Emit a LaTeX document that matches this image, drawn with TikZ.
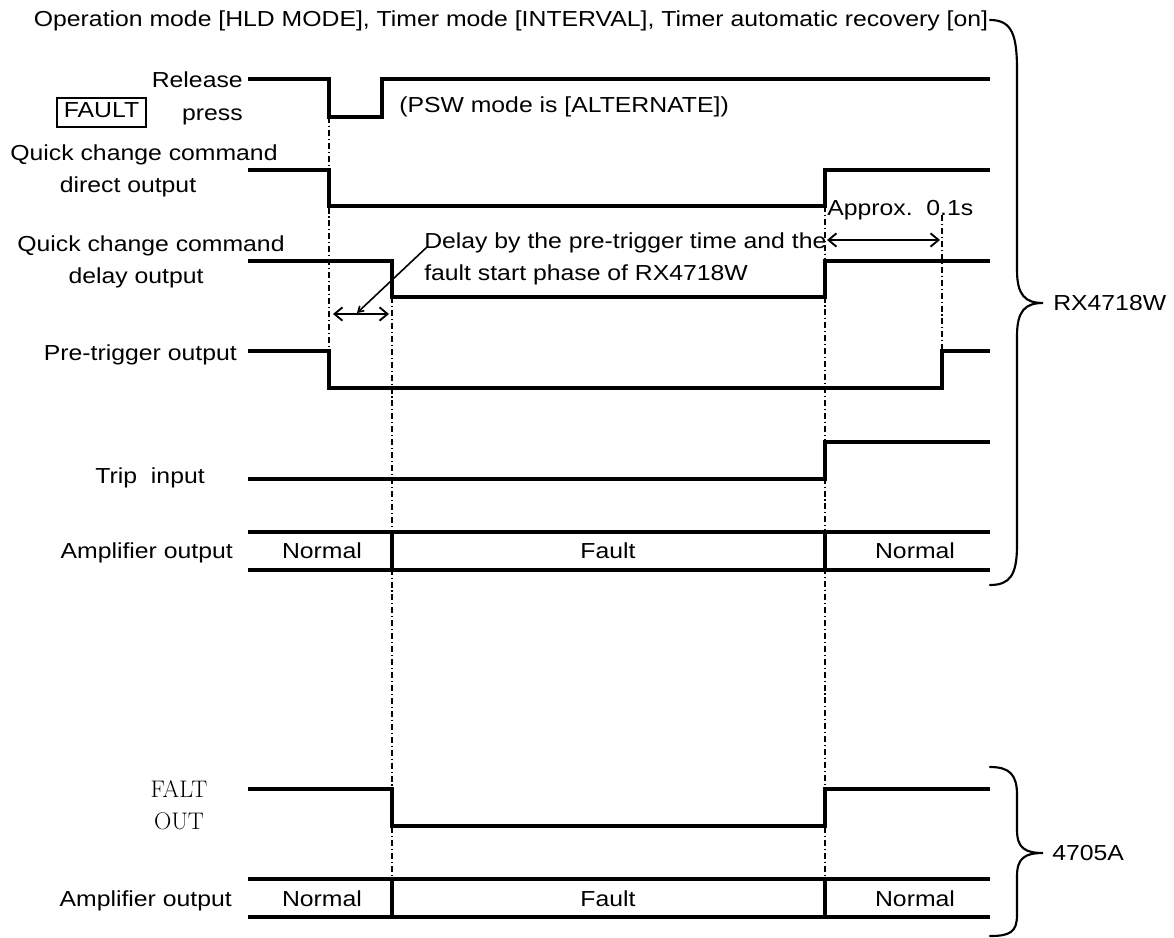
\documentclass[tikz,border=0pt]{standalone}
\usepackage{fontspec}
\setsansfont[FakeStretch=1.14]{Liberation Sans}
\usepackage{tikz}
\usetikzlibrary{arrows.meta}

\begin{document}
\begin{tikzpicture}[x=0.75pt,y=-0.75pt,
  every node/.style={font=\sffamily\fontsize{16.3}{19}\selectfont,inner sep=0pt},
  sig/.style={line width=2.4pt,line join=miter},
  guide/.style={line width=0.8pt,dash pattern=on 4.5pt off 2.2pt on 0.8pt off 2.2pt},
  dimarrow/.style={line width=1.4pt,{Straight Barb[length=6pt,width=10pt]}-{Straight Barb[length=6pt,width=10pt]}},
  bracepath/.style={line width=1.6pt,line cap=round},
  lbl/.style={anchor=base east},
  serif/.style={anchor=base,font=\rmfamily\fontsize{18}{21}\selectfont}]
  \useasboundingbox (0,0) rectangle (1174,938);

  % header
  \node[anchor=base] (head) at (511,27) {Operation mode [HLD MODE], Timer mode [INTERVAL], Timer automatic recovery [on]};

  % signal names
  \node[lbl] (release) at (243,88) {Release};
  \node[lbl] (press) at (243,121) {press};
  \node[draw,line width=1.3pt,minimum width=66.75pt,minimum height=21.75pt,text depth=3pt] (faultkey) at (101.5,112.5) {FAULT};
  \node[anchor=base west] (psw) at (399,113) {(PSW mode is [ALTERNATE])};
  \node[anchor=base] (qcdirA) at (144,161) {Quick change command};
  \node[anchor=base] (qcdirB) at (128,192) {direct output};
  \node[anchor=base] (qcdlyA) at (151,251) {Quick change command};
  \node[anchor=base] (qcdlyB) at (136,283) {delay output};
  \node[lbl] (pretrig) at (237,360) {Pre-trigger output};
  \node[lbl] (trip) at (205,483) {Trip~~input};
  \node[lbl] (ampA) at (233,558) {Amplifier output};
  \node[serif] (faltA) at (179,797) {FALT};
  \node[serif] (faltB) at (179,829) {OUT};
  \node[lbl] (ampB) at (232,906) {Amplifier output};

  % guide lines
  \draw[guide] (329,117) -- (329,388);
  \draw[guide] (392,297) -- (392,917);
  \draw[guide] (825,206) -- (825,917);
  \draw[guide] (942,215) -- (942,351);

  % waveforms
  \draw[sig] (248,79) -- (329,79) -- (329,117) -- (382,117) -- (382,79) -- (990,79);
  \draw[sig] (248,170) -- (329,170) -- (329,206) -- (825,206) -- (825,170) -- (990,170);
  \draw[sig] (248,261) -- (392,261) -- (392,297) -- (825,297) -- (825,261) -- (990,261);
  \draw[sig] (248,351) -- (329,351) -- (329,388) -- (942,388) -- (942,351) -- (990,351);
  \draw[sig] (248,479) -- (825,479) -- (825,442) -- (990,442);
  \draw[sig] (248,789) -- (392,789) -- (392,826) -- (825,826) -- (825,789) -- (990,789);
  \foreach \yt/\yb in {532/570,879/917}{
    \draw[sig] (248,\yt) -- (990,\yt) (248,\yb) -- (990,\yb);
    \draw[sig] (392,\yt) -- (392,\yb) (825,\yt) -- (825,\yb);
  }
  \node[anchor=base] (normA) at (322,558) {Normal};
  \node[anchor=base] (faultA) at (608,558) {Fault};
  \node[anchor=base] (normB) at (915,558) {Normal};
  \node[anchor=base] (normC) at (322,906) {Normal};
  \node[anchor=base] (faultB) at (608,906) {Fault};
  \node[anchor=base] (normD) at (915,906) {Normal};

  % delays
  \coordinate (dlyL) at (333,314);
  \coordinate (dlyR) at (389,314);
  \draw[dimarrow] (dlyL) -- (dlyR);
  \node[anchor=base west] (delayA) at (424,248) {Delay by the pre-trigger time and the};
  \node[anchor=base west] (delayB) at (424,280) {fault start phase of RX4718W};
  \coordinate (ptail) at (427,247);
  \coordinate (phead) at (357,313);
  \draw[line width=1.2pt,-{Straight Barb[length=4pt,width=5pt]}] (ptail) -- (phead);
  \coordinate (recL) at (827,240);
  \coordinate (recR) at (940,240);
  \draw[dimarrow] (recL) -- (recR);
  \node[anchor=base west] (approx) at (827,215) {Approx.~~0.1s};

  % braces
  \draw[bracepath] (990,20) .. controls (1012,20) and (1017,35) .. (1017,70) -- (1017,270)
    .. controls (1017,295) and (1025,303) .. (1043,303)
    .. controls (1025,303) and (1017,311) .. (1017,336) -- (1017,545)
    .. controls (1017,575) and (1010,585) .. (990,585);
  \node[anchor=base west] (rx) at (1053,310) {RX4718W};
  \draw[bracepath] (990,767) .. controls (1010,767) and (1017,775) .. (1017,795) -- (1017,830)
    .. controls (1017,848) and (1025,853) .. (1043,853)
    .. controls (1025,853) and (1017,858) .. (1017,876) -- (1017,915)
    .. controls (1017,932) and (1010,936) .. (990,936);
  \node[anchor=base west] (amp4705) at (1052,860) {4705A};
\end{tikzpicture}
\end{document}
